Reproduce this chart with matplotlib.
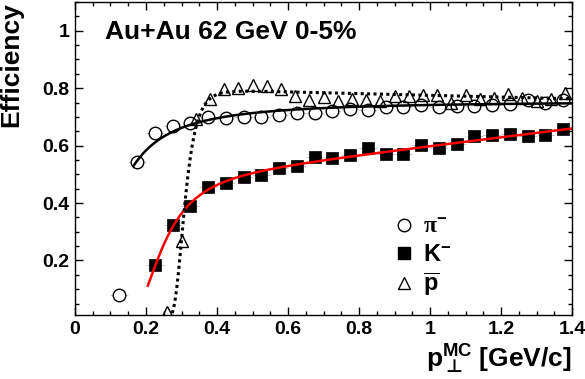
import numpy as np
import matplotlib
matplotlib.use("Agg")
import matplotlib.pyplot as plt
from matplotlib.ticker import MultipleLocator
from matplotlib.lines import Line2D

plt.rcParams['font.family'] = ['Liberation Sans', 'DejaVu Sans']
plt.rcParams['font.weight'] = 'bold'
plt.rcParams['mathtext.fontset'] = 'custom'
plt.rcParams['mathtext.rm'] = 'DejaVu Sans'
plt.rcParams['mathtext.bf'] = 'Liberation Sans:bold'
plt.rcParams['mathtext.it'] = 'Liberation Serif'
plt.rcParams['mathtext.fallback'] = 'stixsans'

# ---- data ----
pion_pt = [0.125, 0.175, 0.225, 0.275, 0.325, 0.375, 0.425, 0.475, 0.525, 0.575,
           0.625, 0.675, 0.725, 0.775, 0.825, 0.875, 0.925, 0.975, 1.025, 1.075,
           1.125, 1.175, 1.225, 1.275, 1.325, 1.375]
pion_eff = [0.081, 0.544, 0.645, 0.667, 0.677, 0.701, 0.696, 0.701, 0.701, 0.707,
            0.714, 0.713, 0.722, 0.728, 0.724, 0.733, 0.733, 0.741, 0.733, 0.738,
            0.738, 0.742, 0.744, 0.758, 0.748, 0.759]

kaon_pt = [0.225, 0.275, 0.325, 0.375, 0.425, 0.475, 0.525, 0.575, 0.625, 0.675,
           0.725, 0.775, 0.825, 0.875, 0.925, 0.975, 1.025, 1.075, 1.125, 1.175,
           1.225, 1.275, 1.325, 1.375]
kaon_eff = [0.184, 0.324, 0.389, 0.454, 0.471, 0.491, 0.497, 0.523, 0.529, 0.561,
            0.558, 0.566, 0.590, 0.572, 0.570, 0.601, 0.593, 0.605, 0.632, 0.636,
            0.640, 0.634, 0.636, 0.657]

pbar_pt = [0.26, 0.30, 0.34, 0.38, 0.42, 0.46, 0.50, 0.54, 0.58, 0.62,
           0.66, 0.70, 0.74, 0.78, 0.82, 0.86, 0.90, 0.94, 0.98, 1.02,
           1.06, 1.10, 1.14, 1.18, 1.22, 1.26, 1.30, 1.34, 1.38]
pbar_eff = [0.020, 0.267, 0.692, 0.762, 0.797, 0.799, 0.811, 0.808, 0.797, 0.772,
            0.760, 0.768, 0.755, 0.763, 0.758, 0.756, 0.773, 0.773, 0.776, 0.776,
            0.750, 0.776, 0.762, 0.764, 0.779, 0.764, 0.756, 0.762, 0.782]

bin_half_width = 0.025

# fit parameters: eff = (p0 + p3*pt) * exp(-(p1/pt)^p2)
pion_fit = [0.755, 0.088, 1.65, 0.0]
kaon_fit = [0.447, 0.2245, 4.11, 0.152]
pbar_fit = [0.805, 0.3015, 14.0, -0.03]
pion_fit_range = [0.165, 1.4]
kaon_fit_range = [0.205, 1.4]
pbar_fit_range = [0.262, 1.4]

labels = [r'$\mathit{\pi}^{\mathbf{-}}$', r'$\mathbf{K}^{\mathbf{-}}$', r'$\mathbf{\overline{p}}$']
title = 'Au+Au 62 GeV 0-5%'
xlabel = r'$\mathbf{p}_{\mathrm{\bot}}^{\mathbf{MC}}$ [GeV/c]'
ylabel = 'Efficiency'


def fitfunc(pt, p):
    pt = np.asarray(pt)
    return (p[0] + p[3] * pt) * np.exp(-(p[1] / pt) ** p[2])


fig = plt.figure(figsize=(5.85, 3.79), dpi=100)
ax = fig.add_axes([0.1282, 0.1689, 0.8496, 0.8258])

err_kw = dict(ecolor='#bbbbbb', elinewidth=0.6, capsize=0, linestyle='none')
ax.errorbar(pion_pt, pion_eff, xerr=bin_half_width, zorder=1, **err_kw)
ax.errorbar(kaon_pt, kaon_eff, xerr=bin_half_width, zorder=1, **err_kw)

ax.plot(pion_pt, pion_eff, 'o', ms=9, mfc='white', mec='black', mew=1.0, zorder=2)
ax.plot(kaon_pt, kaon_eff, 's', ms=8.6, mfc='black', mec='black', mew=0.5, zorder=2)
ax.plot(pbar_pt, pbar_eff, '^', ms=9, mfc='none', mec='black', mew=1.0, zorder=2.5)

xs = np.linspace(pion_fit_range[0], pion_fit_range[1], 300)
ax.plot(xs, fitfunc(xs, pion_fit), '-', color='black', lw=1.8, zorder=3)
xs = np.linspace(kaon_fit_range[0], kaon_fit_range[1], 300)
ax.plot(xs, fitfunc(xs, kaon_fit), '-', color='#ff0000', lw=1.8, zorder=3)
xs = np.linspace(pbar_fit_range[0], pbar_fit_range[1], 600)
ax.plot(xs, fitfunc(xs, pbar_fit), color='black', lw=2.2, linestyle=(0, (1, 1.1)), zorder=3)

ax.set_xlim(0, 1.4)
ax.set_ylim(0.01, 1.1)
ax.xaxis.set_minor_locator(MultipleLocator(0.05))
ax.yaxis.set_minor_locator(MultipleLocator(0.05))
ax.set_xticks([0, 0.2, 0.4, 0.6, 0.8, 1.0, 1.2, 1.4])
ax.set_xticklabels(['0', '0.2', '0.4', '0.6', '0.8', '1', '1.2', '1.4'])
ax.set_yticks([0.2, 0.4, 0.6, 0.8, 1.0])
ax.set_yticklabels(['0.2', '0.4', '0.6', '0.8', '1'])
ax.tick_params(which='both', direction='in', top=True, right=True, labelsize=14,
               width=1.0, pad=4)
ax.tick_params(which='major', length=5.5)
ax.tick_params(which='minor', length=3)
for s in ax.spines.values():
    s.set_linewidth(1.0)

ax.set_ylabel(ylabel, fontsize=19, fontweight='bold')
ax.yaxis.set_label_coords(-0.105, 1.0)
ax.yaxis.label.set_horizontalalignment('right')
ax.set_xlabel(xlabel, fontsize=19, fontweight='bold')
ax.xaxis.set_label_coords(1.0, -0.165)
ax.xaxis.label.set_horizontalalignment('right')
ax.xaxis.label.set_verticalalignment('baseline')

ax.text(0.060, 0.882, title, transform=ax.transAxes, fontsize=19, fontweight='bold',
        ha='left', va='baseline')

handles = [Line2D([], [], marker='o', ms=9, mfc='white', mec='black', mew=1.0, ls='none'),
           Line2D([], [], marker='s', ms=8.6, mfc='black', mec='black', ls='none'),
           Line2D([], [], marker='^', ms=9, mfc='none', mec='black', mew=1.0, ls='none')]
leg = ax.legend(handles, labels, loc='upper left', bbox_to_anchor=(0.605, 0.372),
                frameon=False, fontsize=17, handlelength=1.0, handletextpad=0.3,
                labelspacing=0.2, borderpad=0.2)

fig.savefig('out.png', dpi=100)
